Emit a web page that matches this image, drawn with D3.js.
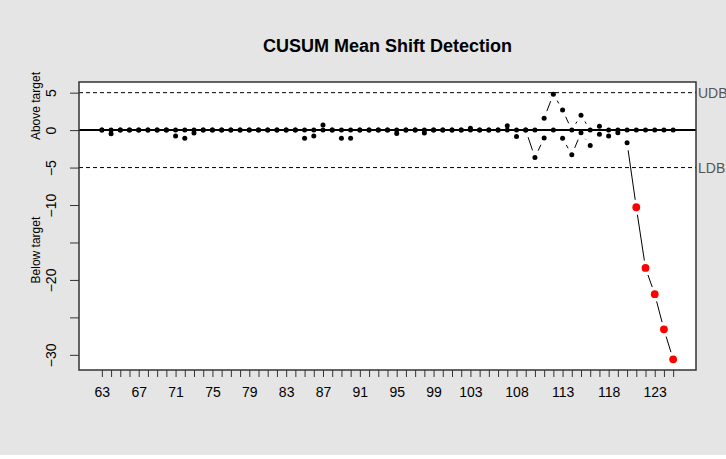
<!DOCTYPE html>
<html>
<head>
<meta charset="utf-8">
<script src="https://cdn.jsdelivr.net/npm/d3@7"></script>
<style>
  body { margin: 0; background: #ffffff; }
  svg { display: block; font-family: "Liberation Sans", Arial, sans-serif; }
</style>
</head>
<body>
<div id="chart"></div>
<script>
// samples 63..125
const firstSample = 63;
const cusumAbove = [
  0, 0, 0, 0, 0, 0, 0, 0, 0, 0,
  0, 0, 0, 0, 0, 0, 0, 0, 0, 0,
  0, 0, 0, 0, 0.7, 0, 0, 0, 0, 0,
  0, 0, 0, 0, 0, 0, 0, 0, 0, 0,
  0.25, 0, 0, 0, 0.6, 0, 0, 0, 1.6, 4.8,
  2.7, 0, 2.0, 0, 0.5, 0, 0, 0, 0, 0,
  0, 0, 0
];
const cusumBelow = [
  0, -0.5, 0, 0, 0, 0, 0, 0, -0.8, -1.1,
  -0.4, 0, 0, 0, 0, 0, 0, 0, 0, 0,
  0, 0, -1.1, -0.8, 0, 0, -1.1, -1.1, 0, 0,
  0, 0, -0.45, 0, 0, -0.4, 0, 0, 0, 0,
  0, 0, 0, 0, 0, -0.85, 0, -3.65, -1.05, 0,
  -1.1, -3.3, -0.35, -2.05, -0.55, -0.8, -0.35, -1.7, -10.3, -18.4,
  -21.9, -26.6, -30.6
];
const decisionInterval = 5;
const xLabels = [63, 67, 71, 75, 79, 83, 87, 91, 95, 99, 103, 108, 113, 118, 123];
const yTicks = [5, 0, -5, -10, -15, -20, -25, -30];
const yLabels = [5, 0, -5, -10, -20, -30];

const width = 726;
const height = 459;

const samples = cusumAbove.map((v, i) => firstSample + i);

const svg = d3.select("#chart")
  .append("svg")
  .attr("width", width)
  .attr("height", height);

svg.append("rect")
  .attr("x", 0).attr("y", 0)
  .attr("width", width).attr("height", 455)
  .attr("fill", "#e5e5e5");

const plot = { left: 79, right: 696, top: 82, bottom: 370 };

// R style 4% axis extension
const xMin = d3.min(samples), xMax = d3.max(samples);
const xPad = (xMax - xMin) * 0.04;
const x = d3.scaleLinear()
  .domain([xMin - xPad, xMax + xPad])
  .range([plot.left, plot.right]);

const yLo = d3.min(cusumBelow), yHi = decisionInterval;
const yPad = (yHi - yLo) * 0.04;
const y = d3.scaleLinear()
  .domain([yLo - yPad, yHi + yPad])
  .range([plot.bottom, plot.top]);

svg.append("rect")
  .attr("x", plot.left).attr("y", plot.top)
  .attr("width", plot.right - plot.left)
  .attr("height", plot.bottom - plot.top)
  .attr("fill", "#ffffff");

// title
svg.append("text")
  .attr("x", (plot.left + plot.right) / 2)
  .attr("y", 51.5)
  .attr("text-anchor", "middle")
  .attr("font-size", 18)
  .attr("font-weight", "bold")
  .text("CUSUM Mean Shift Detection");

// decision boundaries
[decisionInterval, -decisionInterval].forEach(v => {
  svg.append("line")
    .attr("x1", plot.left).attr("x2", plot.right)
    .attr("y1", y(v)).attr("y2", y(v))
    .attr("stroke", "#000")
    .attr("stroke-width", 1)
    .attr("stroke-dasharray", "4,3");
});
svg.append("text")
  .attr("x", plot.right + 2).attr("y", y(decisionInterval) + 5)
  .attr("font-size", 14).attr("fill", "#555")
  .text("UDB");
svg.append("text")
  .attr("x", plot.right + 2).attr("y", y(-decisionInterval) + 5)
  .attr("font-size", 14).attr("fill", "#555")
  .text("LDB");

// center line
svg.append("line")
  .attr("x1", plot.left).attr("x2", plot.right)
  .attr("y1", y(0)).attr("y2", y(0))
  .attr("stroke", "#000")
  .attr("stroke-width", 2);

// type = "b" lines: segments with a gap around each point
const gap = 7.5;
function drawSeries(values) {
  const pts = values.map((v, i) => [x(samples[i]), y(v)]);
  for (let i = 1; i < pts.length; i++) {
    const [x0, y0] = pts[i - 1], [x1, y1] = pts[i];
    const dx = x1 - x0, dy = y1 - y0;
    const len = Math.hypot(dx, dy);
    if (len <= 2 * gap) continue;
    const ux = dx / len, uy = dy / len;
    svg.append("line")
      .attr("x1", x0 + ux * gap).attr("y1", y0 + uy * gap)
      .attr("x2", x1 - ux * gap).attr("y2", y1 - uy * gap)
      .attr("stroke", "#000")
      .attr("stroke-width", 1);
  }
  svg.append("g").selectAll("circle")
    .data(values)
    .enter().append("circle")
    .attr("cx", (d, i) => x(samples[i]))
    .attr("cy", d => y(d))
    .attr("r", d => Math.abs(d) > decisionInterval ? 3.9 : 2.5)
    .attr("fill", d => Math.abs(d) > decisionInterval ? "#ff0000" : "#000");
}
drawSeries(cusumAbove);
drawSeries(cusumBelow);

// plot box
svg.append("rect")
  .attr("x", plot.left).attr("y", plot.top)
  .attr("width", plot.right - plot.left)
  .attr("height", plot.bottom - plot.top)
  .attr("fill", "none")
  .attr("stroke", "#333")
  .attr("stroke-width", 1.5);

// x axis
const xAxis = svg.append("g")
  .attr("transform", `translate(0,${plot.bottom})`)
  .call(d3.axisBottom(x)
    .tickValues(samples)
    .tickSize(7)
    .tickFormat(d => xLabels.includes(d) ? d : ""));
xAxis.select(".domain").remove();
xAxis.selectAll(".tick line").attr("stroke", "#333");
xAxis.selectAll(".tick text")
  .attr("y", 27)
  .attr("dy", 0)
  .attr("font-size", 14)
  .attr("font-family", "Liberation Sans, Arial, sans-serif")
  .attr("fill", "#000");

// y axis
const yAxis = svg.append("g")
  .attr("transform", `translate(${plot.left},0)`)
  .call(d3.axisLeft(y)
    .tickValues(yTicks)
    .tickSize(9)
    .tickFormat(d => yLabels.includes(d) ? String(d).replace("-", "\u2212") : ""));
yAxis.select(".domain").remove();
yAxis.selectAll(".tick line").attr("stroke", "#333");
yAxis.selectAll(".tick text")
  .attr("x", 0).attr("dy", 0)
  .attr("transform", "translate(-23,0) rotate(-90)")
  .attr("text-anchor", "middle")
  .attr("font-size", 14)
  .attr("font-family", "Liberation Sans, Arial, sans-serif")
  .attr("fill", "#000");

// side labels
svg.append("text")
  .attr("transform", `translate(40,${y(y.domain()[1] / 2)}) rotate(-90)`)
  .attr("text-anchor", "middle")
  .attr("font-size", 12)
  .text("Above target");
svg.append("text")
  .attr("transform", `translate(40,${y(y.domain()[0] / 2)}) rotate(-90)`)
  .attr("text-anchor", "middle")
  .attr("font-size", 12)
  .text("Below target");
</script>
</body>
</html>
